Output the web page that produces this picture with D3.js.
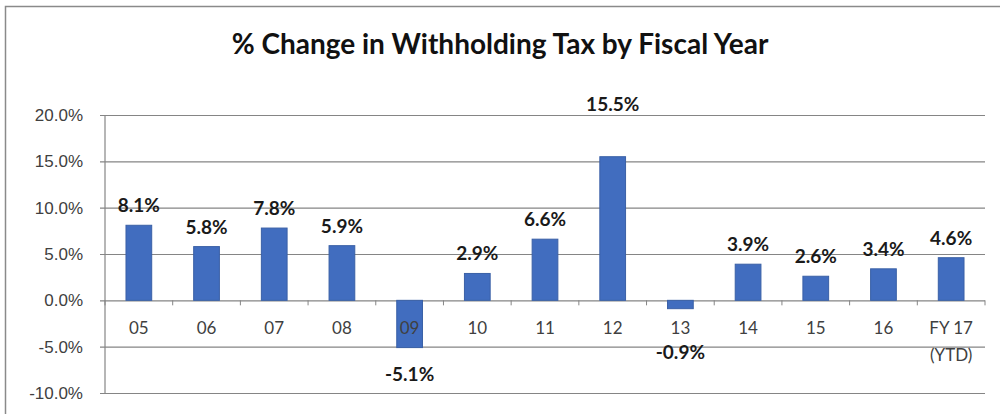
<!DOCTYPE html>
<html>
<head>
<meta charset="utf-8">
<script src="https://cdn.jsdelivr.net/npm/d3@7"></script>
<style>
  body { margin: 0; background: #fff; }
  svg { display: block; font-family: Lato, "Open Sans", sans-serif; }
  .axis text { fill: #404040; font-size: 17px; }
  .barLabel { font-weight: bold; font-size: 19px; fill: #1a1a1a; text-anchor: middle; }
</style>
</head>
<body>
<div id="chart"></div>
<script>
// data
var years = ["05", "06", "07", "08", "09", "10", "11", "12", "13", "14", "15", "16", "FY 17\n(YTD)"];
var changes = [8.1, 5.8, 7.8, 5.9, -5.1, 2.9, 6.6, 15.5, -0.9, 3.9, 2.6, 3.4, 4.6];
var yTicks = [-10, -5, 0, 5, 10, 15, 20];

var svgWidth = 1000;
var svgHeight = 414;

var margin = { top: 115, right: 15, bottom: 21, left: 105 };
var width = svgWidth - margin.left - margin.right;
var height = svgHeight - margin.top - margin.bottom;

var svg = d3.select("#chart")
  .append("svg")
  .attr("width", svgWidth)
  .attr("height", svgHeight);

// chart border
svg.append("rect")
  .attr("x", 5.5)
  .attr("y", 6.5)
  .attr("width", 1010)
  .attr("height", 420)
  .attr("fill", "none")
  .attr("stroke", "#8a8a8a")
  .attr("stroke-width", 1.5);

svg.append("text")
  .attr("x", 500)
  .attr("y", 54)
  .attr("text-anchor", "middle")
  .style("font-size", "28px")
  .style("font-weight", "bold")
  .style("fill", "#111")
  .text("% Change in Withholding Tax by Fiscal Year");

var chartGroup = svg.append("g")
  .attr("transform", `translate(${margin.left}, ${margin.top})`);

var data = years.map(function(y, i) { return { year: y, value: changes[i] }; });

var xScale = d3.scaleBand()
  .domain(years)
  .range([0, width])
  .paddingInner(0.62)
  .paddingOuter(0.31);

var yScale = d3.scaleLinear()
  .domain([-10, 20])
  .range([height, 0]);

// gridlines + y axis
var leftAxis = d3.axisLeft(yScale)
  .tickValues(yTicks)
  .tickSize(-width - 5)
  .tickPadding(17)
  .tickFormat(function(d) { return d.toFixed(1) + "%"; });

var yAxisG = chartGroup.append("g")
  .attr("class", "axis")
  .attr("transform", "translate(-5,0)")
  .call(leftAxis);
yAxisG.select(".domain").remove();
yAxisG.selectAll(".tick line").attr("stroke", "#858585").attr("stroke-width", 1.2);

// plot area left edge
chartGroup.append("line")
  .attr("x1", 0).attr("x2", 0)
  .attr("y1", 0).attr("y2", height)
  .attr("stroke", "#858585")
  .attr("stroke-width", 1.2);

// category tick marks on the zero line
var step = xScale.step();
chartGroup.selectAll(".catTick")
  .data(d3.range(years.length + 1))
  .enter()
  .append("line")
  .attr("x1", function(i) { return i * step; })
  .attr("x2", function(i) { return i * step; })
  .attr("y1", yScale(0))
  .attr("y2", yScale(0) + 5)
  .attr("stroke", "#858585");

// bars
chartGroup.selectAll(".bar")
  .data(data)
  .enter()
  .append("rect")
  .attr("class", "bar")
  .attr("x", function(d) { return xScale(d.year); })
  .attr("width", xScale.bandwidth())
  .attr("y", function(d) { return yScale(Math.max(0, d.value)); })
  .attr("height", function(d) { return Math.abs(yScale(d.value) - yScale(0)); })
  .attr("fill", "#416dbf")
  .attr("stroke", "#3a60a6")
  .attr("stroke-width", 1);

// category labels
chartGroup.selectAll(".catLabel")
  .data(years)
  .enter()
  .append("text")
  .attr("x", function(d) { return xScale(d) + xScale.bandwidth() / 2; })
  .attr("y", yScale(0) + 34)
  .attr("text-anchor", "middle")
  .style("font-size", "17px")
  .style("fill", "#404040")
  .each(function(d) {
    var lines = d.split("\n");
    var t = d3.select(this);
    lines.forEach(function(l, i) {
      t.append("tspan")
        .attr("x", xScale(d) + xScale.bandwidth() / 2)
        .attr("dy", i === 0 ? 0 : 27)
        .text(l);
    });
  });

// value labels, a few nudged like the original
var nudge = { "12": -33, "13": -17 };
chartGroup.selectAll(".barLabel")
  .data(data)
  .enter()
  .append("text")
  .attr("class", "barLabel")
  .attr("x", function(d) { return xScale(d.year) + xScale.bandwidth() / 2; })
  .attr("y", function(d) {
    var n = nudge[d.year] || 0;
    if (d.value >= 0) return yScale(d.value) - 13 + n;
    return yScale(d.value) + 33 - n;
  })
  .text(function(d) { return d.value.toFixed(1) + "%"; });
</script>
</body>
</html>
